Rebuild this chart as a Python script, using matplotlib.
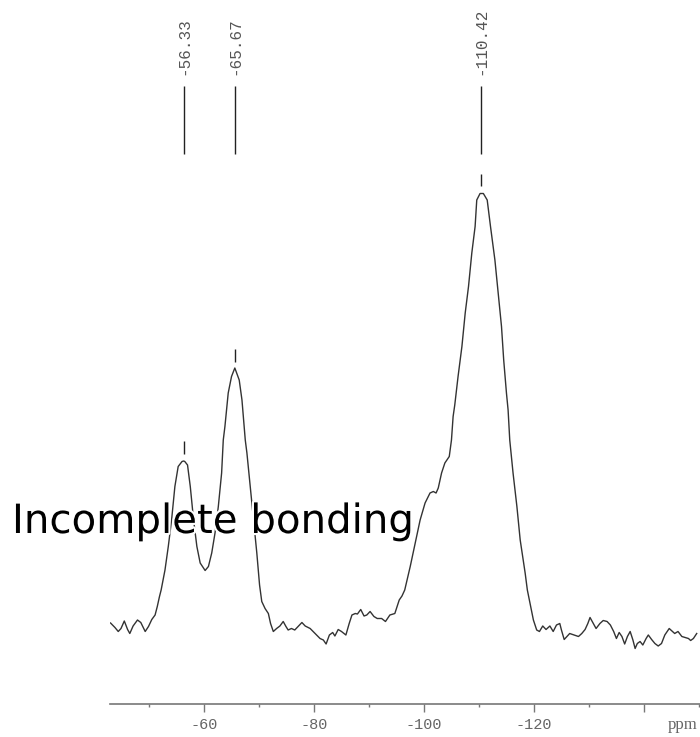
import matplotlib
matplotlib.use('Agg')

import matplotlib.pyplot as plt
import matplotlib.patheffects as pe
import numpy as np

# spectrum (ppm, intensity in a.u.)
ppm = [-43.0, -43.8, -44.4, -44.9, -45.5, -46.1, -46.5, -47.1, -47.9, -48.5,
       -49.3, -49.9, -50.5, -51.1, -51.5, -51.9, -52.2, -52.9, -53.5, -54.1,
       -54.7, -55.3, -56.0, -56.3, -56.5, -57.0, -57.5, -58.1, -58.7, -59.3,
       -60.2, -60.8, -61.4, -62.0, -62.6, -63.2, -63.5, -63.8, -64.4, -65.0,
       -65.6, -66.4, -66.9, -67.5, -67.8, -68.4, -69.0, -69.6, -70.1, -70.5,
       -71.1, -71.7, -72.1, -72.6, -73.2, -73.8, -74.4, -74.9, -75.3, -75.9,
       -76.5, -77.1, -77.8, -78.4, -79.3, -80.2, -81.1, -81.7, -82.2, -82.8,
       -83.4, -83.8, -84.4, -85.0, -85.8, -86.4, -86.9, -87.5, -87.9, -88.5,
       -89.1, -89.6, -90.2, -90.9, -91.5, -92.3, -93.0, -93.8, -94.7, -95.5,
       -96.0, -96.5, -97.5, -98.4, -99.3, -100.2, -101.1, -101.7, -102.2, -102.6,
       -103.2, -103.8, -104.6, -105.0, -105.3, -105.6, -106.2, -106.9, -107.5, -108.1,
       -108.7, -109.3, -109.6, -110.2, -110.8, -111.5, -112.1, -112.9, -113.5, -114.1,
       -114.5, -115.0, -115.3, -115.6, -116.2, -116.9, -117.5, -118.4, -118.8, -119.3,
       -119.9, -120.5, -121.0, -121.6, -122.2, -122.9, -123.5, -124.1, -124.7, -125.0,
       -125.5, -126.0, -126.5, -127.3, -128.1, -128.7, -129.3, -129.8, -130.2, -130.8,
       -131.3, -132.0, -132.6, -133.3, -133.9, -134.5, -135.0, -135.5, -136.0, -136.5,
       -137.0, -137.5, -138.0, -138.4, -138.8, -139.3, -139.8, -140.4, -140.8, -141.4,
       -142.0, -142.6, -143.2, -143.8, -144.6, -145.2, -145.6, -146.2, -146.9, -147.5,
       -148.1, -148.5, -149.0, -149.6]
intensity = [5.4, 4.5, 3.7, 4.3, 5.8, 4.1, 3.3, 4.8, 6.0, 5.5,
             3.7, 4.7, 6.1, 7.0, 8.7, 10.7, 12.0, 16.0, 20.7, 26.0,
             32.7, 36.7, 37.7, 37.8, 37.7, 37.0, 32.7, 26.0, 20.7, 17.4,
             15.9, 16.7, 19.4, 23.4, 28.7, 35.4, 42.0, 44.7, 51.4, 54.7,
             56.4, 54.0, 50.0, 42.0, 39.4, 32.7, 26.0, 19.4, 13.0, 9.7,
             8.3, 7.3, 5.3, 3.7, 4.3, 4.8, 5.7, 4.7, 4.0, 4.3,
             4.0, 4.7, 5.5, 4.8, 4.3, 3.3, 2.3, 2.0, 1.2, 3.0,
             3.5, 2.8, 4.1, 3.7, 3.0, 5.3, 7.0, 7.3, 7.2, 8.1,
             6.8, 7.0, 7.7, 6.7, 6.3, 6.3, 5.7, 7.0, 7.3, 10.0,
             10.8, 12.0, 16.7, 21.4, 26.0, 29.4, 31.4, 31.7, 31.4, 32.4,
             35.4, 37.4, 38.7, 42.0, 46.7, 49.0, 54.7, 60.7, 67.4, 72.7,
             79.4, 84.7, 90.0, 91.3, 91.3, 90.0, 84.7, 78.0, 71.4, 64.7,
             58.0, 51.4, 48.0, 42.0, 35.4, 28.7, 22.0, 15.4, 12.0, 9.3,
             6.0, 4.0, 3.7, 4.8, 4.1, 4.8, 3.7, 5.0, 5.3, 4.0,
             2.1, 2.7, 3.3, 3.0, 2.7, 3.3, 4.1, 5.3, 6.5, 5.3,
             4.3, 5.3, 5.9, 5.7, 5.0, 3.7, 2.3, 3.5, 2.7, 1.2,
             2.7, 3.7, 2.0, 0.3, 1.3, 1.7, 1.0, 2.3, 3.0, 2.1,
             1.3, 0.8, 1.3, 3.0, 4.3, 3.7, 3.3, 3.7, 2.7, 2.5,
             2.3, 1.9, 2.3, 3.3]

peaks = [-56.33, -65.67, -110.42]
peak_labels = ["-56.33", "-65.67", "-110.42"]

major_ticks = [-60, -80, -100, -120, -140]
major_labels = ["-60", "-80", "-100", "-120", ""]
minor_ticks = [-50, -70, -90, -110, -130, -150]

fig = plt.figure(figsize=(7.0, 7.37), dpi=100, facecolor='white')
ax = fig.add_axes([110/700, 33/737, 590/700, 704/737])

ax.plot(ppm, intensity, color='#333333', lw=1.0)

ax.set_xlim(-42.9, -150.2)
ax.set_ylim(-10.8, 130)

# peak picking marks
mono = 'Liberation Mono'
for p, lab in zip(peaks, peak_labels):
    ax.vlines(p, 99.2, 112.8, color='#222222', lw=1.0)
    top = np.interp(p, ppm[::-1], intensity[::-1])
    ax.vlines(p, top + 1.5, top + 4.0, color='#222222', lw=1.0)
    ax.text(p, 115.0, lab, rotation=90, ha='center', va='bottom',
            family=mono, fontsize=11.5, color='#555555')

for s in ['top', 'left', 'right']:
    ax.spines[s].set_visible(False)
ax.spines['bottom'].set_color('#777777')
ax.spines['bottom'].set_linewidth(1.2)
ax.set_yticks([])

ax.set_xticks(major_ticks)
ax.set_xticklabels(major_labels, family=mono, fontsize=11, color='#666666')
ax.set_xticks(minor_ticks, minor=True)
ax.tick_params(axis='x', which='major', direction='out', length=6, width=1.0,
               color='#777777', pad=4)
ax.tick_params(axis='x', which='minor', direction='out', length=2, width=1.0,
               color='#777777')

fig.text(683/700, 1 - 725/737, "ppm", ha='center', va='center',
         family='Liberation Serif', fontsize=12, color='#666666')

fig.text(12/700, 1 - 533/737, "Incomplete bonding", ha='left', va='baseline',
         family='DejaVu Sans', fontsize=29, color='black',
         path_effects=[pe.withStroke(linewidth=3, foreground='white')])

fig.savefig('out.png', dpi=100, facecolor='white')
